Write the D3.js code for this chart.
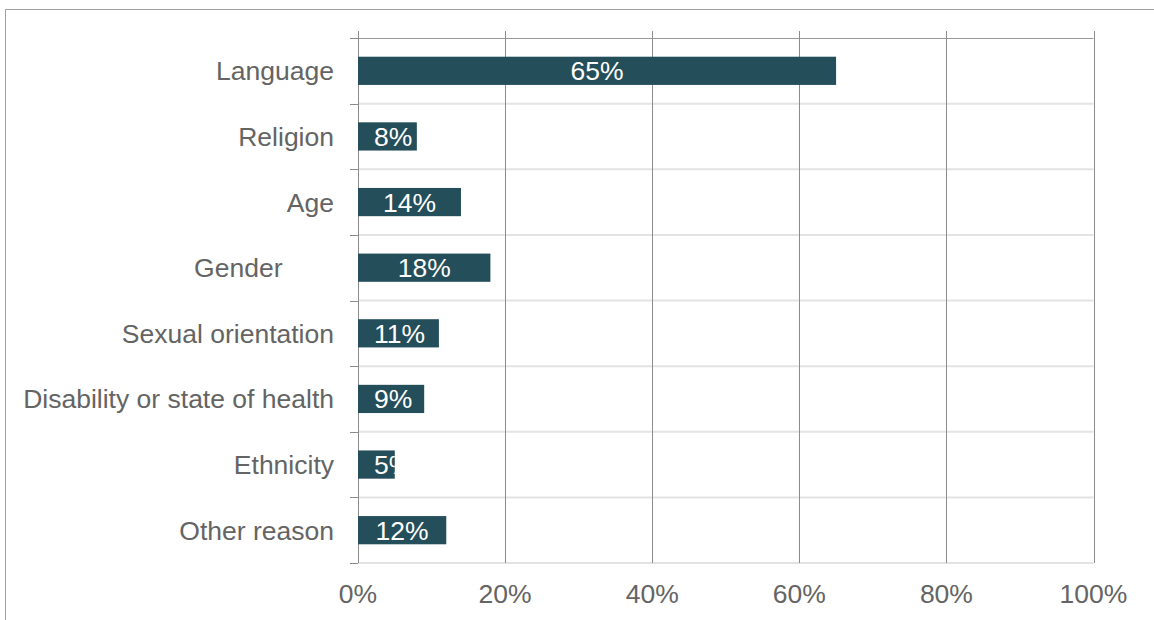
<!DOCTYPE html>
<html>
<head>
<meta charset="utf-8">
<script src="https://cdn.jsdelivr.net/npm/d3@7"></script>
<style>
  html, body { margin: 0; padding: 0; background: #fff; }
  svg { display: block; font-family: "Liberation Sans", Arial, sans-serif; }
</style>
</head>
<body>
<svg id="chart" width="1154" height="620"></svg>
<script>
// Reasons for discrimination (share of respondents)
const categories = ["Language", "Religion", "Age", "Gender", "Sexual orientation",
  "Disability or state of health", "Ethnicity", "Other reason"];
const values = [65, 8, 14, 18, 11, 9, 5, 12];
const xTicks = [0, 20, 40, 60, 80, 100];
// "Gender" carries trailing spaces in its label, shifting it left
const labelText = { "Gender": "Gender       " };

const W = 1154, H = 620;
const plot = { left: 358, right: 1093.5, top: 38, bottom: 563 };
const fontSize = 26.5;
const textGray = "#646464";

const svg = d3.select("#chart");

// outer frame (top and left edges)
svg.append("path")
  .attr("d", `M5.5,${H} V9.5 H${W}`)
  .attr("fill", "none").attr("stroke", "#a0a0a0").attr("stroke-width", 1);

const x = d3.scaleLinear().domain([0, 100]).range([plot.left, plot.right]);
const y = d3.scaleBand().domain(categories).range([plot.top, plot.bottom])
  .paddingInner(0.57).paddingOuter(0.285);

const band = (plot.bottom - plot.top) / categories.length;
const boundaries = d3.range(categories.length + 1).map(i => plot.top + i * band);

// light horizontal separators between categories
svg.append("g").selectAll("line").data(boundaries.slice(1)).join("line")
  .attr("x1", plot.left).attr("x2", plot.right)
  .attr("y1", d => d).attr("y2", d => d)
  .attr("stroke", "#e3e3e3").attr("stroke-width", 2);

// top edge of plot
svg.append("line")
  .attr("x1", plot.left - 8).attr("x2", plot.right)
  .attr("y1", plot.top + 0.5).attr("y2", plot.top + 0.5)
  .attr("stroke", "#999").attr("stroke-width", 1);

// vertical gridlines
svg.append("g").selectAll("line").data(xTicks.slice(1)).join("line")
  .attr("x1", d => Math.round(x(d)) + 0.5).attr("x2", d => Math.round(x(d)) + 0.5)
  .attr("y1", plot.top - 7).attr("y2", plot.bottom)
  .attr("stroke", "#8c8c8c").attr("stroke-width", 1);

// category axis with ticks at band boundaries
svg.append("line")
  .attr("x1", plot.left + 0.5).attr("x2", plot.left + 0.5)
  .attr("y1", plot.top - 7).attr("y2", plot.bottom)
  .attr("stroke", "#8c8c8c");
svg.append("g").selectAll("line").data(boundaries).join("line")
  .attr("x1", plot.left - 8).attr("x2", plot.left)
  .attr("y1", d => Math.round(d) + 0.5).attr("y2", d => Math.round(d) + 0.5)
  .attr("stroke", "#8c8c8c");

// x tick labels
svg.append("g").selectAll("text").data(xTicks).join("text")
  .attr("x", d => x(d)).attr("y", 603)
  .attr("text-anchor", "middle")
  .attr("font-size", fontSize).attr("fill", textGray)
  .text(d => d + "%");

// category labels
svg.append("g").selectAll("text").data(categories).join("text")
  .attr("x", 334).attr("y", d => y(d) + y.bandwidth() / 2 + 9.5)
  .attr("text-anchor", "end")
  .attr("font-size", fontSize).attr("fill", textGray)
  .style("white-space", "pre")
  .text(d => labelText[d] || d);

// bars with clipped value labels
const defs = svg.append("defs");
const data = categories.map((c, i) => ({ c, v: values[i], i }));
defs.selectAll("clipPath").data(data).join("clipPath")
  .attr("id", d => "clip" + d.i)
  .append("rect")
  .attr("x", plot.left).attr("y", d => y(d.c))
  .attr("width", d => x(d.v) - plot.left).attr("height", y.bandwidth());

const bars = svg.append("g").selectAll("g").data(data).join("g");
bars.append("rect")
  .attr("x", plot.left).attr("y", d => y(d.c))
  .attr("width", d => x(d.v) - plot.left).attr("height", y.bandwidth())
  .attr("fill", "#234e5a");

// value labels: centred in the bar, but never closer than the inset to the bar start
const inset = 16;
bars.append("text")
  .attr("clip-path", d => `url(#clip${d.i})`)
  .attr("y", d => y(d.c) + y.bandwidth() / 2 + 9.5)
  .attr("text-anchor", "start")
  .attr("font-size", fontSize).attr("fill", "#ffffff")
  .text(d => d.v + "%")
  .attr("x", function (d) {
    const w = this.getComputedTextLength();
    const centre = (plot.left + x(d.v)) / 2;
    return Math.max(centre - w / 2, plot.left + inset);
  });
</script>
</body>
</html>
